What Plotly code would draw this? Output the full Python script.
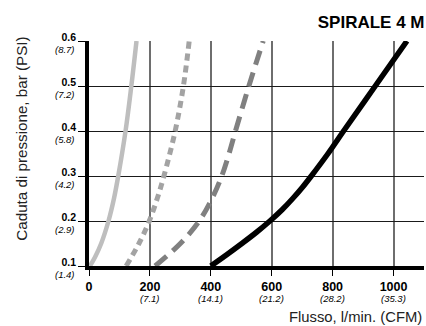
import plotly.graph_objects as go

# Data (flow in l/min vs pressure drop in bar)
light_p = [0.1, 0.12, 0.15, 0.2, 0.25, 0.3, 0.4, 0.5, 0.6]
light_q = [3, 20, 40, 64, 82, 96, 120, 139, 156]

dot_p = [0.1, 0.15, 0.2, 0.25, 0.3, 0.4, 0.5, 0.6]
dot_q = [122, 164, 198, 224, 246, 283, 310, 329]

dash_p = [0.1, 0.15, 0.2, 0.25, 0.3, 0.35, 0.4, 0.5, 0.6]
dash_q = [217, 300, 362, 404, 436, 460, 481, 525, 572]

black_p = [0.1, 0.125, 0.15, 0.175, 0.2, 0.225, 0.25, 0.275, 0.3, 0.35, 0.4, 0.5, 0.6]
black_q = [400, 452, 502, 550, 594, 634, 669, 701, 730, 785, 836, 940, 1044]

x_ticks = [0, 200, 400, 600, 800, 1000]
x_cfm = ["", "(7.1)", "(14.1)", "(21.2)", "(28.2)", "(35.3)"]
y_ticks = [0.1, 0.2, 0.3, 0.4, 0.5, 0.6]
y_psi = ["(1.4)", "(2.9)", "(4.2)", "(5.8)", "(7.2)", "(8.7)"]

title = "SPIRALE 4 M"
x_title = "Flusso, l/min. (CFM)"
y_title = "Caduta di pressione, bar (PSI)"

FONT = "Liberation Sans, Arial, sans-serif"

fig = go.Figure()
fig.add_trace(go.Scatter(x=light_q, y=light_p, mode="lines", line_shape="spline",
                         line=dict(color="#bebebe", width=4.5)))
fig.add_trace(go.Scatter(x=dot_q, y=dot_p, mode="lines", line_shape="spline",
                         line=dict(color="#a3a3a3", width=5, dash="7px,5px")))
fig.add_trace(go.Scatter(x=dash_q, y=dash_p, mode="lines", line_shape="spline",
                         line=dict(color="#808080", width=5, dash="15px,8px")))
fig.add_trace(go.Scatter(x=black_q, y=black_p, mode="lines", line_shape="spline",
                         line=dict(color="#000000", width=5.5)))

annotations = []
for v, c in zip(x_ticks, x_cfm):
    if c:
        annotations.append(dict(text="<i>%s</i>" % c, x=v, xref="x", y=0, yref="paper",
                                xanchor="center", yanchor="middle", yshift=-32.5,
                                showarrow=False, borderpad=0, borderwidth=0,
                                font=dict(size=9.5, family=FONT, color="#000")))
for v, c in zip(y_ticks, y_psi):
    annotations.append(dict(text="<i>%s</i>" % c, x=0, xref="paper", y=v, yref="y",
                            xanchor="right", yanchor="middle", xshift=-14, yshift=-8.5,
                            showarrow=False, borderpad=0, borderwidth=0,
                            font=dict(size=9.5, family=FONT, color="#000")))
annotations.append(dict(text=x_title, xref="paper", yref="paper", x=1, y=-51 / 224.5,
                        xanchor="right", yanchor="middle", showarrow=False,
                        font=dict(size=14.8, family=FONT, color="#222")))
annotations.append(dict(text=y_title, xref="paper", yref="paper", x=(22 - 89) / 335,
                        y=(266 - 139) / 224.5, xanchor="center", yanchor="middle",
                        textangle=-90, showarrow=False,
                        font=dict(size=15.2, family=FONT, color="#222")))

fig.update_layout(
    width=426, height=326,
    margin=dict(l=89, r=2, t=41, b=60),
    paper_bgcolor="white", plot_bgcolor="white",
    showlegend=False,
    font=dict(family=FONT, color="#000"),
    title=dict(text="<b>%s</b>" % title, x=424.5 / 426, xref="container", xanchor="right",
               y=1 - 22.5 / 326, yref="container", yanchor="middle",
               font=dict(size=17, color="#000", family=FONT)),
    xaxis=dict(range=[0, 1100], tickvals=x_ticks,
               ticktext=["<b>%d</b>" % v for v in x_ticks],
               tickfont=dict(size=12.5, family=FONT, color="#000"),
               showgrid=True, gridcolor="#6e6e6e", gridwidth=1.5,
               zeroline=False, showline=True, linecolor="#000", linewidth=3.5,
               ticks="outside", ticklen=6, tickcolor="#000", tickwidth=1.2),
    yaxis=dict(range=[0.1, 0.6], tickvals=y_ticks,
               ticktext=["<b>%.1f</b>" % v for v in y_ticks],
               tickfont=dict(size=10.5, family=FONT, color="#000"),
               ticklabelshift=-4,
               showgrid=True, gridcolor="#1a1a1a", gridwidth=1.2,
               zeroline=False, showline=True, linecolor="#000", linewidth=3.5,
               ticks="outside", ticklen=7, tickcolor="#000", tickwidth=1.2),
    annotations=annotations,
)

fig.write_html("out.html", config={"displayModeBar": False},
               post_script="document.body.style.margin='0';document.body.style.overflow='hidden';")
